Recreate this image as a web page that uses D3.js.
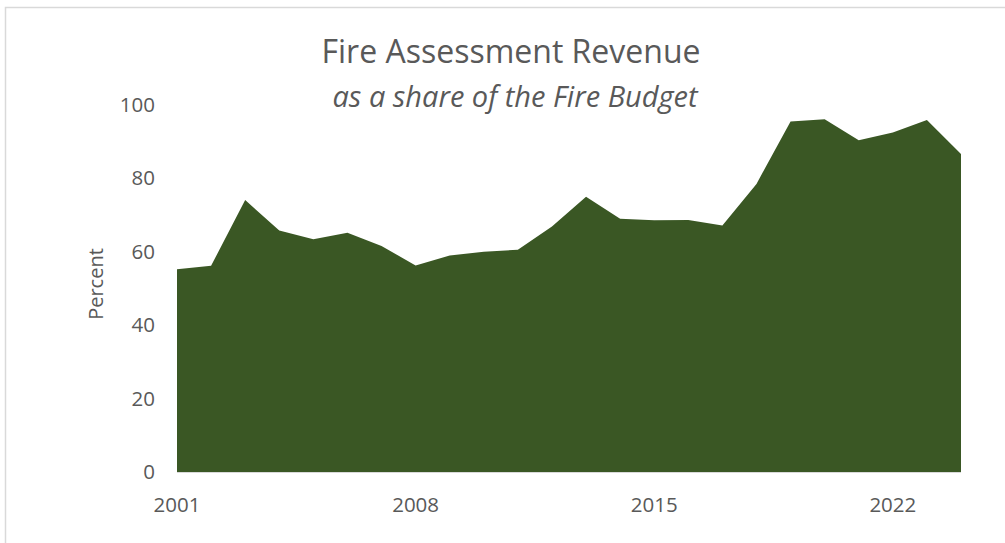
<!DOCTYPE html>
<html>
<head>
<script src="https://cdn.jsdelivr.net/npm/d3@7"></script>
<style>
body { margin: 0; background: #fff; }
text { font-family: "Open Sans", sans-serif; fill: #595959; }
</style>
</head>
<body>
<div id="viz"></div>
<script>
// data
var years = d3.range(2001, 2025);
var percent = [55.2, 56.1, 74.0, 65.7, 63.3, 65.1, 61.5, 56.2, 58.9, 59.9, 60.5, 66.8,
               74.9, 68.9, 68.5, 68.6, 67.1, 78.4, 95.4, 96.0, 90.3, 92.4, 95.8, 86.5];
var yTicks = [0, 20, 40, 60, 80, 100];
var xTicks = [2001, 2008, 2015, 2022];

var W = 1005, H = 543;
var svg = d3.select("#viz").append("svg").attr("width", W).attr("height", H);

// chart frame (runs off right and bottom)
svg.append("rect").attr("x", 5.5).attr("y", 7.5).attr("width", 1010).attr("height", 560)
    .attr("fill", "none").attr("stroke", "#d9d9d9").attr("stroke-width", 1.5);

var x = d3.scaleLinear().domain([2001, 2024]).range([177, 961]);
var y = d3.scaleLinear().domain([0, 100]).range([472, 104.5]);

var data = years.map(function(d, i){ return {year: d, v: percent[i]}; });

var area = d3.area()
    .x(function(d){ return x(d.year); })
    .y0(y(0))
    .y1(function(d){ return y(d.v); });

svg.append("path").datum(data)
    .attr("d", area)
    .attr("fill", "#3a5724");

// x axis line
svg.append("line").attr("x1", x(2001)).attr("x2", x(2024))
    .attr("y1", y(0) + 0.5).attr("y2", y(0) + 0.5)
    .attr("stroke", "#d9d9d9").attr("stroke-width", 1);

svg.selectAll("text.ytick").data(yTicks).enter().append("text")
    .attr("class", "ytick")
    .attr("x", 155).attr("y", function(d){ return y(d); })
    .attr("dy", "0.36em").attr("text-anchor", "end")
    .style("font-size", "20.5px")
    .text(function(d){ return d; });

svg.selectAll("text.xtick").data(xTicks).enter().append("text")
    .attr("class", "xtick")
    .attr("x", function(d){ return x(d); }).attr("y", 512)
    .attr("text-anchor", "middle")
    .style("font-size", "20.5px")
    .text(function(d){ return d; });

svg.append("text")
    .attr("transform", "translate(103,284) rotate(-90)")
    .attr("text-anchor", "middle")
    .style("font-size", "20px")
    .text("Percent");

svg.append("text").attr("x", 511).attr("y", 63)
    .attr("text-anchor", "middle").style("font-size", "32px")
    .text("Fire Assessment Revenue");

svg.append("text").attr("x", 515).attr("y", 107)
    .attr("text-anchor", "middle").style("font-size", "29px").style("font-style", "italic")
    .text("as a share of the Fire Budget");
</script>
</body>
</html>
